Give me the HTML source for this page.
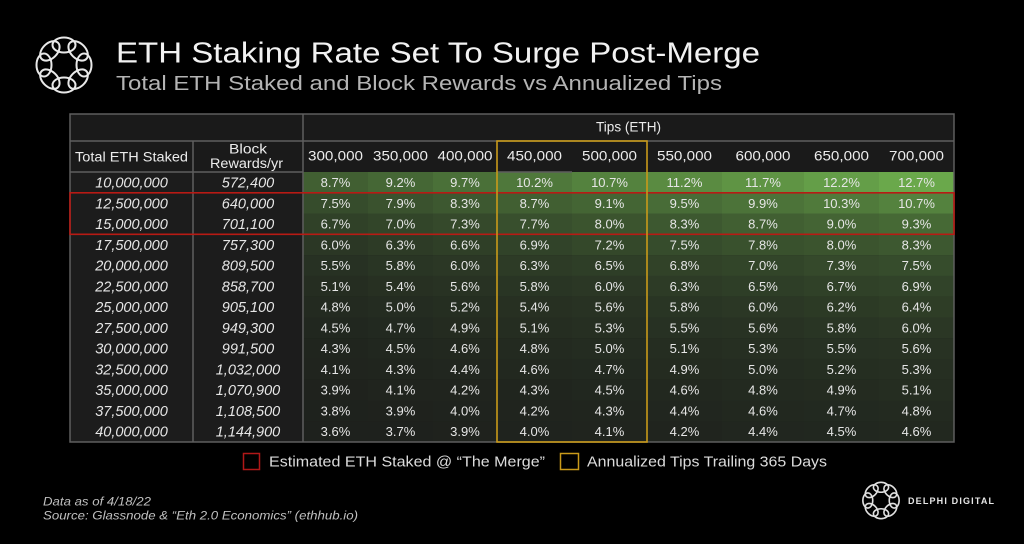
<!DOCTYPE html>
<html>
<head>
<meta charset="utf-8">
<style>
html,body{margin:0;padding:0;background:#000;}
svg{display:block;}
.t{font-family:"Liberation Sans",sans-serif;}
.p{font-family:"Liberation Sans",sans-serif;font-size:13px;fill:#e6e6e6;text-anchor:middle;}
.l{font-family:"Liberation Sans",sans-serif;font-style:italic;font-size:14.5px;fill:#e6e6e6;text-anchor:middle;}
.h{font-family:"Liberation Sans",sans-serif;font-size:13.5px;fill:#ececec;text-anchor:middle;}
</style>
</head>
<body>
<svg width="1024" height="544" viewBox="0 0 1024 544" xmlns="http://www.w3.org/2000/svg">
<rect x="0" y="0" width="1024" height="544" fill="#000"/>

<!-- Top logo -->
<g transform="translate(64,65)" fill="none" stroke="#e8e8e8" stroke-width="2">
<ellipse cx="0" cy="-20" rx="11.5" ry="7.5"/>
<ellipse cx="0" cy="-20" rx="11.5" ry="7.5" transform="rotate(45)"/>
<ellipse cx="0" cy="-20" rx="11.5" ry="7.5" transform="rotate(90)"/>
<ellipse cx="0" cy="-20" rx="11.5" ry="7.5" transform="rotate(135)"/>
<ellipse cx="0" cy="-20" rx="11.5" ry="7.5" transform="rotate(180)"/>
<ellipse cx="0" cy="-20" rx="11.5" ry="7.5" transform="rotate(225)"/>
<ellipse cx="0" cy="-20" rx="11.5" ry="7.5" transform="rotate(270)"/>
<ellipse cx="0" cy="-20" rx="11.5" ry="7.5" transform="rotate(315)"/>
</g>

<!-- Title -->
<text class="t" x="116" y="62.5" font-size="29" fill="#f2f2f2" textLength="644" lengthAdjust="spacingAndGlyphs">ETH Staking Rate Set To Surge Post-Merge</text>
<text class="t" x="116" y="90" font-size="20.5" fill="#b4b4b4" textLength="606" lengthAdjust="spacingAndGlyphs">Total ETH Staked and Block Rewards vs Annualized Tips</text>

<!-- Table backgrounds -->
<rect x="70" y="114" width="884" height="58" fill="#1a1a1a"/>
<rect x="70" y="172" width="233" height="270" fill="#1c1c1c"/>

<!-- Data rows -->
<g transform="translate(0,172)">
<rect x="303" width="65" height="21" fill="#415f32"/><rect x="368" width="65" height="21" fill="#456735"/><rect x="433" width="64" height="21" fill="#4a7038"/><rect x="497" width="75" height="21" fill="#4f783b"/><rect x="572" width="75" height="21" fill="#54823e"/><rect x="647" width="75" height="21" fill="#5a8b41"/><rect x="722" width="82" height="21" fill="#5f9444"/><rect x="804" width="75" height="21" fill="#649e48"/><rect x="879" width="75" height="21" fill="#6aa84b"/>
<text class="l" x="131.5" y="15.5">10,000,000</text><text class="l" x="248" y="15.5">572,400</text>
<text class="p" x="335.5" y="15">8.7%</text><text class="p" x="400.5" y="15">9.2%</text><text class="p" x="465" y="15">9.7%</text><text class="p" x="534.5" y="15">10.2%</text><text class="p" x="609.5" y="15">10.7%</text><text class="p" x="684.5" y="15">11.2%</text><text class="p" x="763" y="15">11.7%</text><text class="p" x="841.5" y="15">12.2%</text><text class="p" x="916.5" y="15">12.7%</text>
</g>
<g transform="translate(0,192.8)">
<rect x="303" width="65" height="21" fill="#364c2c"/><rect x="368" width="65" height="21" fill="#3a522e"/><rect x="433" width="64" height="21" fill="#3d5830"/><rect x="497" width="75" height="21" fill="#415f32"/><rect x="572" width="75" height="21" fill="#446534"/><rect x="647" width="75" height="21" fill="#486c37"/><rect x="722" width="82" height="21" fill="#4c7339"/><rect x="804" width="75" height="21" fill="#507a3b"/><rect x="879" width="75" height="21" fill="#54823e"/>
<text class="l" x="131.5" y="15.5">12,500,000</text><text class="l" x="248" y="15.5">640,000</text>
<text class="p" x="335.5" y="15">7.5%</text><text class="p" x="400.5" y="15">7.9%</text><text class="p" x="465" y="15">8.3%</text><text class="p" x="534.5" y="15">8.7%</text><text class="p" x="609.5" y="15">9.1%</text><text class="p" x="684.5" y="15">9.5%</text><text class="p" x="763" y="15">9.9%</text><text class="p" x="841.5" y="15">10.3%</text><text class="p" x="916.5" y="15">10.7%</text>
</g>
<g transform="translate(0,213.5)">
<rect x="303" width="65" height="21" fill="#304128"/><rect x="368" width="65" height="21" fill="#324529"/><rect x="433" width="64" height="21" fill="#35492b"/><rect x="497" width="75" height="21" fill="#384f2d"/><rect x="572" width="75" height="21" fill="#3b542e"/><rect x="647" width="75" height="21" fill="#3d5830"/><rect x="722" width="82" height="21" fill="#415f32"/><rect x="804" width="75" height="21" fill="#446434"/><rect x="879" width="75" height="21" fill="#466935"/>
<text class="l" x="131.5" y="15.5">15,000,000</text><text class="l" x="248" y="15.5">701,100</text>
<text class="p" x="335.5" y="15">6.7%</text><text class="p" x="400.5" y="15">7.0%</text><text class="p" x="465" y="15">7.3%</text><text class="p" x="534.5" y="15">7.7%</text><text class="p" x="609.5" y="15">8.0%</text><text class="p" x="684.5" y="15">8.3%</text><text class="p" x="763" y="15">8.7%</text><text class="p" x="841.5" y="15">9.0%</text><text class="p" x="916.5" y="15">9.3%</text>
</g>
<g transform="translate(0,234.3)">
<rect x="303" width="65" height="21" fill="#2b3725"/><rect x="368" width="65" height="21" fill="#2d3b26"/><rect x="433" width="64" height="21" fill="#2f3f27"/><rect x="497" width="75" height="21" fill="#314329"/><rect x="572" width="75" height="21" fill="#34482a"/><rect x="647" width="75" height="21" fill="#364c2c"/><rect x="722" width="82" height="21" fill="#39512d"/><rect x="804" width="75" height="21" fill="#3b542e"/><rect x="879" width="75" height="21" fill="#3d5830"/>
<text class="l" x="131.5" y="15.5">17,500,000</text><text class="l" x="248" y="15.5">757,300</text>
<text class="p" x="335.5" y="15">6.0%</text><text class="p" x="400.5" y="15">6.3%</text><text class="p" x="465" y="15">6.6%</text><text class="p" x="534.5" y="15">6.9%</text><text class="p" x="609.5" y="15">7.2%</text><text class="p" x="684.5" y="15">7.5%</text><text class="p" x="763" y="15">7.8%</text><text class="p" x="841.5" y="15">8.0%</text><text class="p" x="916.5" y="15">8.3%</text>
</g>
<g transform="translate(0,255.1)">
<rect x="303" width="65" height="21" fill="#273123"/><rect x="368" width="65" height="21" fill="#293524"/><rect x="433" width="64" height="21" fill="#2b3725"/><rect x="497" width="75" height="21" fill="#2d3b26"/><rect x="572" width="75" height="21" fill="#2e3e27"/><rect x="647" width="75" height="21" fill="#314228"/><rect x="722" width="82" height="21" fill="#324529"/><rect x="804" width="75" height="21" fill="#35492b"/><rect x="879" width="75" height="21" fill="#364c2c"/>
<text class="l" x="131.5" y="15.5">20,000,000</text><text class="l" x="248" y="15.5">809,500</text>
<text class="p" x="335.5" y="15">5.5%</text><text class="p" x="400.5" y="15">5.8%</text><text class="p" x="465" y="15">6.0%</text><text class="p" x="534.5" y="15">6.3%</text><text class="p" x="609.5" y="15">6.5%</text><text class="p" x="684.5" y="15">6.8%</text><text class="p" x="763" y="15">7.0%</text><text class="p" x="841.5" y="15">7.3%</text><text class="p" x="916.5" y="15">7.5%</text>
</g>
<g transform="translate(0,275.8)">
<rect x="303" width="65" height="21" fill="#252d21"/><rect x="368" width="65" height="21" fill="#273022"/><rect x="433" width="64" height="21" fill="#283223"/><rect x="497" width="75" height="21" fill="#293524"/><rect x="572" width="75" height="21" fill="#2b3725"/><rect x="647" width="75" height="21" fill="#2d3b26"/><rect x="722" width="82" height="21" fill="#2e3e27"/><rect x="804" width="75" height="21" fill="#304128"/><rect x="879" width="75" height="21" fill="#314329"/>
<text class="l" x="131.5" y="15.5">22,500,000</text><text class="l" x="248" y="15.5">858,700</text>
<text class="p" x="335.5" y="15">5.1%</text><text class="p" x="400.5" y="15">5.4%</text><text class="p" x="465" y="15">5.6%</text><text class="p" x="534.5" y="15">5.8%</text><text class="p" x="609.5" y="15">6.0%</text><text class="p" x="684.5" y="15">6.3%</text><text class="p" x="763" y="15">6.5%</text><text class="p" x="841.5" y="15">6.7%</text><text class="p" x="916.5" y="15">6.9%</text>
</g>
<g transform="translate(0,296.6)">
<rect x="303" width="65" height="21" fill="#232a20"/><rect x="368" width="65" height="21" fill="#242c21"/><rect x="433" width="64" height="21" fill="#252e21"/><rect x="497" width="75" height="21" fill="#273022"/><rect x="572" width="75" height="21" fill="#283223"/><rect x="647" width="75" height="21" fill="#293524"/><rect x="722" width="82" height="21" fill="#2b3725"/><rect x="804" width="75" height="21" fill="#2c3a25"/><rect x="879" width="75" height="21" fill="#2e3d26"/>
<text class="l" x="131.5" y="15.5">25,000,000</text><text class="l" x="248" y="15.5">905,100</text>
<text class="p" x="335.5" y="15">4.8%</text><text class="p" x="400.5" y="15">5.0%</text><text class="p" x="465" y="15">5.2%</text><text class="p" x="534.5" y="15">5.4%</text><text class="p" x="609.5" y="15">5.6%</text><text class="p" x="684.5" y="15">5.8%</text><text class="p" x="763" y="15">6.0%</text><text class="p" x="841.5" y="15">6.2%</text><text class="p" x="916.5" y="15">6.4%</text>
</g>
<g transform="translate(0,317.4)">
<rect x="303" width="65" height="21" fill="#21271f"/><rect x="368" width="65" height="21" fill="#222920"/><rect x="433" width="64" height="21" fill="#242b20"/><rect x="497" width="75" height="21" fill="#252d21"/><rect x="572" width="75" height="21" fill="#262f22"/><rect x="647" width="75" height="21" fill="#273123"/><rect x="722" width="82" height="21" fill="#283223"/><rect x="804" width="75" height="21" fill="#293524"/><rect x="879" width="75" height="21" fill="#2b3725"/>
<text class="l" x="131.5" y="15.5">27,500,000</text><text class="l" x="248" y="15.5">949,300</text>
<text class="p" x="335.5" y="15">4.5%</text><text class="p" x="400.5" y="15">4.7%</text><text class="p" x="465" y="15">4.9%</text><text class="p" x="534.5" y="15">5.1%</text><text class="p" x="609.5" y="15">5.3%</text><text class="p" x="684.5" y="15">5.5%</text><text class="p" x="763" y="15">5.6%</text><text class="p" x="841.5" y="15">5.8%</text><text class="p" x="916.5" y="15">6.0%</text>
</g>
<g transform="translate(0,338.2)">
<rect x="303" width="65" height="21" fill="#20251e"/><rect x="368" width="65" height="21" fill="#21271f"/><rect x="433" width="64" height="21" fill="#22281f"/><rect x="497" width="75" height="21" fill="#232a20"/><rect x="572" width="75" height="21" fill="#242c21"/><rect x="647" width="75" height="21" fill="#252d21"/><rect x="722" width="82" height="21" fill="#262f22"/><rect x="804" width="75" height="21" fill="#273123"/><rect x="879" width="75" height="21" fill="#283223"/>
<text class="l" x="131.5" y="15.5">30,000,000</text><text class="l" x="248" y="15.5">991,500</text>
<text class="p" x="335.5" y="15">4.3%</text><text class="p" x="400.5" y="15">4.5%</text><text class="p" x="465" y="15">4.6%</text><text class="p" x="534.5" y="15">4.8%</text><text class="p" x="609.5" y="15">5.0%</text><text class="p" x="684.5" y="15">5.1%</text><text class="p" x="763" y="15">5.3%</text><text class="p" x="841.5" y="15">5.5%</text><text class="p" x="916.5" y="15">5.6%</text>
</g>
<g transform="translate(0,358.9)">
<rect x="303" width="65" height="21" fill="#20241e"/><rect x="368" width="65" height="21" fill="#20251e"/><rect x="433" width="64" height="21" fill="#21261f"/><rect x="497" width="75" height="21" fill="#22281f"/><rect x="572" width="75" height="21" fill="#222920"/><rect x="647" width="75" height="21" fill="#242b20"/><rect x="722" width="82" height="21" fill="#242c21"/><rect x="804" width="75" height="21" fill="#252e21"/><rect x="879" width="75" height="21" fill="#262f22"/>
<text class="l" x="131.5" y="15.5">32,500,000</text><text class="l" x="248" y="15.5">1,032,000</text>
<text class="p" x="335.5" y="15">4.1%</text><text class="p" x="400.5" y="15">4.3%</text><text class="p" x="465" y="15">4.4%</text><text class="p" x="534.5" y="15">4.6%</text><text class="p" x="609.5" y="15">4.7%</text><text class="p" x="684.5" y="15">4.9%</text><text class="p" x="763" y="15">5.0%</text><text class="p" x="841.5" y="15">5.2%</text><text class="p" x="916.5" y="15">5.3%</text>
</g>
<g transform="translate(0,379.7)">
<rect x="303" width="65" height="21" fill="#1f221d"/><rect x="368" width="65" height="21" fill="#20241e"/><rect x="433" width="64" height="21" fill="#20241e"/><rect x="497" width="75" height="21" fill="#20251e"/><rect x="572" width="75" height="21" fill="#21271f"/><rect x="647" width="75" height="21" fill="#22281f"/><rect x="722" width="82" height="21" fill="#232a20"/><rect x="804" width="75" height="21" fill="#242b20"/><rect x="879" width="75" height="21" fill="#252d21"/>
<text class="l" x="131.5" y="15.5">35,000,000</text><text class="l" x="248" y="15.5">1,070,900</text>
<text class="p" x="335.5" y="15">3.9%</text><text class="p" x="400.5" y="15">4.1%</text><text class="p" x="465" y="15">4.2%</text><text class="p" x="534.5" y="15">4.3%</text><text class="p" x="609.5" y="15">4.5%</text><text class="p" x="684.5" y="15">4.6%</text><text class="p" x="763" y="15">4.8%</text><text class="p" x="841.5" y="15">4.9%</text><text class="p" x="916.5" y="15">5.1%</text>
</g>
<g transform="translate(0,400.5)">
<rect x="303" width="65" height="21" fill="#1e221d"/><rect x="368" width="65" height="21" fill="#1f221d"/><rect x="433" width="64" height="21" fill="#1f231e"/><rect x="497" width="75" height="21" fill="#20241e"/><rect x="572" width="75" height="21" fill="#20251e"/><rect x="647" width="75" height="21" fill="#21261f"/><rect x="722" width="82" height="21" fill="#22281f"/><rect x="804" width="75" height="21" fill="#222920"/><rect x="879" width="75" height="21" fill="#232a20"/>
<text class="l" x="131.5" y="15.5">37,500,000</text><text class="l" x="248" y="15.5">1,108,500</text>
<text class="p" x="335.5" y="15">3.8%</text><text class="p" x="400.5" y="15">3.9%</text><text class="p" x="465" y="15">4.0%</text><text class="p" x="534.5" y="15">4.2%</text><text class="p" x="609.5" y="15">4.3%</text><text class="p" x="684.5" y="15">4.4%</text><text class="p" x="763" y="15">4.6%</text><text class="p" x="841.5" y="15">4.7%</text><text class="p" x="916.5" y="15">4.8%</text>
</g>
<g transform="translate(0,421.2)">
<rect x="303" width="65" height="20.8" fill="#1e211d"/><rect x="368" width="65" height="20.8" fill="#1e211d"/><rect x="433" width="64" height="20.8" fill="#1f221d"/><rect x="497" width="75" height="20.8" fill="#1f231e"/><rect x="572" width="75" height="20.8" fill="#20241e"/><rect x="647" width="75" height="20.8" fill="#20241e"/><rect x="722" width="82" height="20.8" fill="#21261f"/><rect x="804" width="75" height="20.8" fill="#21271f"/><rect x="879" width="75" height="20.8" fill="#22281f"/>
<text class="l" x="131.5" y="15.5">40,000,000</text><text class="l" x="248" y="15.5">1,144,900</text>
<text class="p" x="335.5" y="15">3.6%</text><text class="p" x="400.5" y="15">3.7%</text><text class="p" x="465" y="15">3.9%</text><text class="p" x="534.5" y="15">4.0%</text><text class="p" x="609.5" y="15">4.1%</text><text class="p" x="684.5" y="15">4.2%</text><text class="p" x="763" y="15">4.4%</text><text class="p" x="841.5" y="15">4.5%</text><text class="p" x="916.5" y="15">4.6%</text>
</g>

<!-- Header text -->
<text class="h" x="628.5" y="131.5" textLength="65" lengthAdjust="spacingAndGlyphs">Tips (ETH)</text>
<text class="h" x="131.5" y="161.5" textLength="113" lengthAdjust="spacingAndGlyphs">Total ETH Staked</text>
<text class="h" x="248" y="153.3" textLength="38" lengthAdjust="spacingAndGlyphs">Block</text>
<text class="h" x="246.5" y="168" textLength="73" lengthAdjust="spacingAndGlyphs">Rewards/yr</text>
<text class="h" x="335.5" y="160.7" textLength="55" lengthAdjust="spacingAndGlyphs">300,000</text>
<text class="h" x="400.5" y="160.7" textLength="55" lengthAdjust="spacingAndGlyphs">350,000</text>
<text class="h" x="465" y="160.7" textLength="55" lengthAdjust="spacingAndGlyphs">400,000</text>
<text class="h" x="534.5" y="160.7" textLength="55" lengthAdjust="spacingAndGlyphs">450,000</text>
<text class="h" x="609.5" y="160.7" textLength="55" lengthAdjust="spacingAndGlyphs">500,000</text>
<text class="h" x="684.5" y="160.7" textLength="55" lengthAdjust="spacingAndGlyphs">550,000</text>
<text class="h" x="763" y="160.7" textLength="55" lengthAdjust="spacingAndGlyphs">600,000</text>
<text class="h" x="841.5" y="160.7" textLength="55" lengthAdjust="spacingAndGlyphs">650,000</text>
<text class="h" x="916.5" y="160.7" textLength="55" lengthAdjust="spacingAndGlyphs">700,000</text>

<!-- Grid lines -->
<g stroke="#5e5e5e" stroke-width="1.5" fill="none">
<line x1="70" y1="141" x2="954" y2="141"/>
<line x1="70" y1="172" x2="303" y2="172"/>
<line x1="497" y1="172" x2="572" y2="172"/>
<line x1="303" y1="114" x2="303" y2="442"/>
<line x1="193" y1="141" x2="193" y2="442"/>
<rect x="70" y="114" width="884" height="328"/>
</g>

<!-- Highlight boxes -->
<rect x="70" y="192.8" width="884" height="41.5" fill="none" stroke="#b81a14" stroke-width="1.6"/>
<rect x="497" y="141" width="150" height="301" fill="none" stroke="#c99a1a" stroke-width="1.6"/>

<!-- Legend -->
<rect x="243.5" y="453.5" width="16" height="16" fill="none" stroke="#b01818" stroke-width="1.5"/>
<text class="t" x="269" y="466.5" font-size="14.5" fill="#dcdcdc" textLength="276" lengthAdjust="spacingAndGlyphs">Estimated ETH Staked @ “The Merge”</text>
<rect x="560.5" y="453.5" width="18" height="16" fill="none" stroke="#c99a1a" stroke-width="1.5"/>
<text class="t" x="587" y="466.5" font-size="14.5" fill="#dcdcdc" textLength="240" lengthAdjust="spacingAndGlyphs">Annualized Tips Trailing 365 Days</text>

<!-- Footer -->
<text class="t" x="43" y="505.5" font-size="11.5" font-style="italic" fill="#c0c0c0" textLength="108" lengthAdjust="spacingAndGlyphs">Data as of 4/18/22</text>
<text class="t" x="43" y="519.5" font-size="11.5" font-style="italic" fill="#c0c0c0" textLength="315" lengthAdjust="spacingAndGlyphs">Source:  Glassnode &amp; “Eth 2.0 Economics” (ethhub.io)</text>

<!-- Bottom-right logo -->
<g transform="translate(881,500.5) scale(0.66)" fill="none" stroke="#e0e0e0" stroke-width="2.4">
<ellipse cx="0" cy="-20" rx="11.5" ry="7.5"/>
<ellipse cx="0" cy="-20" rx="11.5" ry="7.5" transform="rotate(45)"/>
<ellipse cx="0" cy="-20" rx="11.5" ry="7.5" transform="rotate(90)"/>
<ellipse cx="0" cy="-20" rx="11.5" ry="7.5" transform="rotate(135)"/>
<ellipse cx="0" cy="-20" rx="11.5" ry="7.5" transform="rotate(180)"/>
<ellipse cx="0" cy="-20" rx="11.5" ry="7.5" transform="rotate(225)"/>
<ellipse cx="0" cy="-20" rx="11.5" ry="7.5" transform="rotate(270)"/>
<ellipse cx="0" cy="-20" rx="11.5" ry="7.5" transform="rotate(315)"/>
</g>
<text class="t" x="908" y="503.8" font-size="9" font-weight="bold" fill="#e6e6e6" textLength="86" lengthAdjust="spacing">DELPHI DIGITAL</text>
</svg>
</body>
</html>
